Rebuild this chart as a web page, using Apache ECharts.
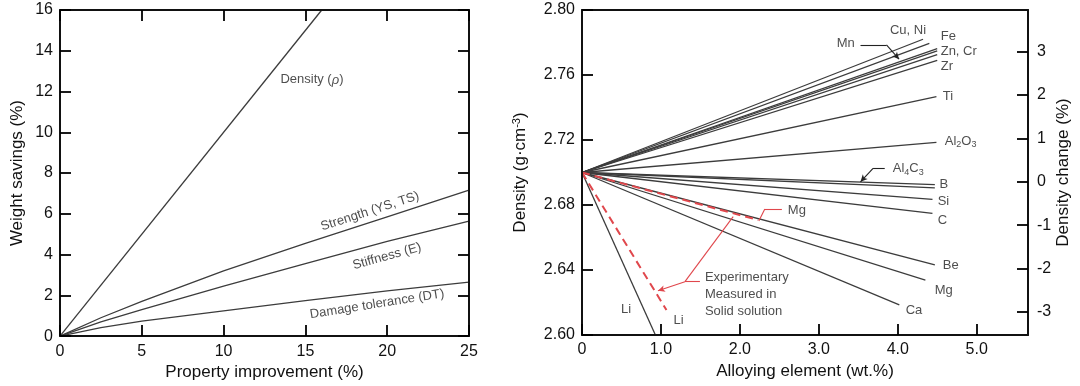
<!DOCTYPE html>
<html><head><meta charset="utf-8">
<script src="https://cdn.jsdelivr.net/npm/echarts@6/dist/echarts.min.js"></script>
<style>html,body{margin:0;padding:0;background:#fff}#c{width:1080px;height:386px}</style>
</head><body><div id="c"></div>
<script>
// ---------- Left chart data ----------
const improvementX = [0, 2.5, 5, 10, 15, 20, 25];
const strengthY   = [0, 0.9, 1.7, 3.2, 4.55, 5.85, 7.16];
const stiffnessY  = [0, 0.7, 1.3, 2.45, 3.55, 4.65, 5.64];
const damageY     = [0, 0.42, 0.73, 1.24, 1.74, 2.22, 2.65];
const densityX    = [0, 16];
const densityY    = [0, 16];
const leftLabelText = ['Density ({i|ρ})', 'Strength (YS, TS)', 'Stiffness (E)', 'Damage tolerance (DT)'];
const leftLabelX = [15.4, 18.95, 19.99, 19.38];
const leftLabelY = [12.57, 6.12, 3.91, 1.57];
const leftLabelRot = [0, 18, 15.5, 9];

// ---------- Right chart data ----------
const baseDensity = 2.70;
const elements   = ['Cu, Ni', 'Fe', 'Zn', 'Cr', 'Mn', 'Zr', 'Ti', 'Al2O3', 'Al4C3', 'B', 'Si', 'C', 'Be', 'Mg', 'Ca', 'Li'];
const endWt      = [4.32, 4.40, 4.50, 4.50, 4.50, 4.50, 4.49, 4.49, 4.47, 4.47, 4.44, 4.44, 4.47, 4.35, 4.02, 0.93];
const endDensity = [2.782, 2.7795, 2.7763, 2.7748, 2.7725, 2.7690, 2.7467, 2.7185, 2.6925, 2.6905, 2.6835, 2.6749, 2.6431, 2.6338, 2.6185, 2.60];
const measuredNames   = ['Mg (measured)', 'Li (measured)'];
const measuredWt      = [2.23, 1.07];
const measuredDensity = [2.6708, 2.6154];
const xTicks = [0, 1, 2, 3, 4, 5];
const changeTicks = [-3, -2, -1, 0, 1, 2, 3];

const rLabelText  = ['Cu, Ni', 'Fe', 'Zn, Cr', 'Zr', 'Mn', 'Ti', 'Al{sub|2}O{sub|3}', 'Al{sub|4}C{sub|3}', 'B', 'Si', 'C', 'Be', 'Mg', 'Ca', 'Li', 'Li', 'Mg', 'Experimentary\nMeasured in\nSolid solution'];
const rLabelX     = [4.13, 4.544, 4.544, 4.544, 3.342, 4.57, 4.595, 3.937, 4.53, 4.506, 4.506, 4.57, 4.468, 4.10, 0.557, 1.224, 2.608, 1.557];
const rLabelD     = [2.7873, 2.7836, 2.7743, 2.7655, 2.7795, 2.7466, 2.7194, 2.7026, 2.6929, 2.682, 2.6708, 2.6431, 2.6273, 2.6154, 2.6158, 2.6092, 2.6769, 2.625];
const rLabelAlign = ['center', 'left', 'left', 'left', 'center', 'left', 'left', 'left', 'left', 'left', 'left', 'left', 'left', 'left', 'center', 'center', 'left', 'left'];

const leaders = [
  { pts: [[3.528, 2.7785], [3.857, 2.7785], [4.017, 2.7697]], arrow: true, red: false },
  { pts: [[3.835, 2.7026], [3.687, 2.7026], [3.528, 2.6943]], arrow: true, red: false },
  { pts: [[2.532, 2.6775], [2.316, 2.6775], [2.24, 2.6702]], arrow: false, red: true },
  { pts: [[1.494, 2.6328], [1.304, 2.6328], [1.915, 2.6728]], arrow: false, red: true },
  { pts: [[1.304, 2.6328], [0.962, 2.6272]], arrow: true, red: true }
];

// ---------- Styles ----------
const FONT = 'Liberation Sans, Arial, Helvetica, sans-serif';
const INK = '#111';
const LINE = '#3c3c3c';
const RED = '#e0474c';
const TICK = { show: true, inside: true, length: 11, lineStyle: { color: '#000', width: 1.8 } };

function axisBase(extra) {
  return Object.assign({
    type: 'value',
    z: 10,
    splitLine: { show: false },
    axisLine: { show: true, onZero: false, lineStyle: { color: INK, width: 2 } },
    axisTick: TICK,
    axisLabel: { color: INK, fontSize: 16, fontFamily: FONT, margin: 7 },
    nameLocation: 'middle',
    nameTextStyle: { color: INK, fontSize: 17, fontFamily: FONT }
  }, extra);
}

const series = [];
function zip(xs, ys) { return xs.map((x, i) => [x, ys[i]]); }
const leftLineStyle = { color: LINE, width: 1.3 };
[[densityX, densityY], [improvementX, strengthY], [improvementX, stiffnessY], [improvementX, damageY]].forEach(([xs, ys]) => {
  series.push({ type: 'line', xAxisIndex: 0, yAxisIndex: 0, data: zip(xs, ys), symbol: 'none', smooth: false, lineStyle: leftLineStyle, silent: true, animation: false });
});
series.push({
  type: 'scatter', xAxisIndex: 0, yAxisIndex: 0, symbolSize: 0, silent: true, animation: false,
  data: leftLabelText.map((t, i) => ({
    value: [leftLabelX[i], leftLabelY[i]],
    label: { show: true, position: 'inside', formatter: t, rotate: leftLabelRot[i], color: '#222', fontSize: 13, fontFamily: FONT,
      rich: { i: { fontStyle: 'italic', fontSize: 13, fontFamily: FONT, color: '#222' } } }
  }))
});

elements.forEach((name, i) => {
  series.push({ type: 'line', name, xAxisIndex: 2, yAxisIndex: 2, data: [[0, baseDensity], [endWt[i], endDensity[i]]], symbol: 'none', lineStyle: { color: LINE, width: 1.3 }, silent: true, animation: false, z: 3 });
});
measuredNames.forEach((name, i) => {
  series.push({ type: 'line', name, xAxisIndex: 2, yAxisIndex: 2, data: [[0, baseDensity], [measuredWt[i], measuredDensity[i]]], symbol: 'none', lineStyle: { color: RED, width: 2, type: [8, 5] }, silent: true, animation: false, z: 4 });
});
const mlData = [];
leaders.forEach(l => {
  for (let k = 0; k < l.pts.length - 1; k++) {
    const last = k === l.pts.length - 2;
    const c = l.red ? RED : '#222';
    mlData.push([
      { coord: l.pts[k], symbol: 'none', lineStyle: { color: c, width: 1.1, type: 'solid' } },
      { coord: l.pts[k + 1], symbol: (last && l.arrow) ? 'arrow' : 'none', symbolSize: [5, 7] }
    ]);
  }
});
series.push({
  type: 'scatter', xAxisIndex: 2, yAxisIndex: 2, symbolSize: 0, silent: true, animation: false, z: 5,
  data: rLabelText.map((t, i) => ({
    value: [rLabelX[i], rLabelD[i]],
    label: { show: true, position: 'inside', align: rLabelAlign[i], verticalAlign: 'middle', formatter: t, color: '#222', fontSize: 13, fontFamily: FONT, lineHeight: 17,
      rich: { sub: { fontSize: 9, fontFamily: FONT, color: '#222', verticalAlign: 'bottom', padding: [6, 0, 0, 0] } } }
  })),
  markLine: { silent: true, animation: false, symbol: ['none', 'none'], label: { show: false }, emphasis: { disabled: true }, data: mlData }
});

const option = {
  animation: false,
  backgroundColor: '#fff',
  grid: [
    { left: 60, top: 10, width: 409, height: 327, show: false },
    { left: 582, top: 10, width: 446, height: 325, show: false }
  ],
  xAxis: [
    axisBase({ gridIndex: 0, min: 0, max: 25, interval: 5, name: 'Property improvement (%)', nameGap: 25 }),
    axisBase({ gridIndex: 0, min: 0, max: 25, interval: 5, position: 'top', axisLabel: { show: false } }),
    axisBase({ gridIndex: 1, min: 0, max: 5.65, name: 'Alloying element (wt.%)', nameGap: 27,
      axisTick: Object.assign({}, TICK, { customValues: xTicks }),
      axisLabel: { color: INK, fontSize: 16, fontFamily: FONT, margin: 7, customValues: xTicks, formatter: v => v === 0 ? '0' : v.toFixed(1) } }),
    axisBase({ gridIndex: 1, min: 0, max: 5.65, position: 'top', axisTick: { show: false }, axisLabel: { show: false } })
  ],
  yAxis: [
    axisBase({ gridIndex: 0, min: 0, max: 16, interval: 2, name: 'Weight savings (%)', nameGap: 34 }),
    axisBase({ gridIndex: 0, min: 0, max: 16, interval: 2, position: 'right', axisLabel: { show: false } }),
    axisBase({ gridIndex: 1, min: 2.60, max: 2.80, interval: 0.04, name: 'Density (g·cm{sup|-3})', nameGap: 52,
      axisLabel: { color: INK, fontSize: 16, fontFamily: FONT, margin: 7, formatter: v => v.toFixed(2) },
      nameTextStyle: { color: INK, fontSize: 17, fontFamily: FONT, rich: { sup: { fontSize: 11, fontFamily: FONT, color: INK, verticalAlign: 'top', padding: [0, 0, 8, 0] } } } }),
    axisBase({ gridIndex: 1, min: -3.53, max: 3.956, position: 'right', name: 'Density change (%)', nameGap: 24, nameRotate: 90,
      axisTick: Object.assign({}, TICK, { customValues: changeTicks }),
      axisLabel: { color: INK, fontSize: 16, fontFamily: FONT, margin: 9, customValues: changeTicks, formatter: v => String(v) } })
  ],
  series
};
const chart = echarts.init(document.getElementById('c'), null, { renderer: 'canvas' });
chart.setOption(option);
</script></body></html>
